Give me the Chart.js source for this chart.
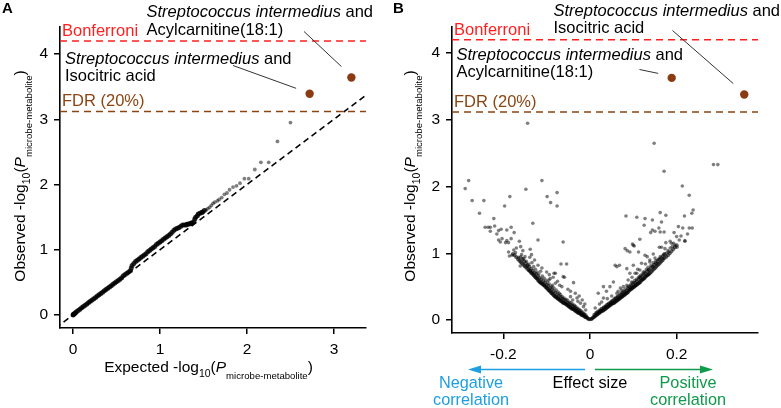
<!DOCTYPE html>
<html><head><meta charset="utf-8">
<script src="https://cdn.jsdelivr.net/npm/chart.js@4.4.1/dist/chart.umd.min.js"></script>
<style>
html,body{margin:0;padding:0;background:#fff;}
#wrap{position:relative;width:781px;height:408px;overflow:hidden;background:#fff;}
canvas{position:absolute;top:0;}
#cA{left:0;} #cB{left:390px;}
</style></head><body>
<div id="wrap"><canvas id="cA" width="390" height="408"></canvas><canvas id="cB" width="391" height="408"></canvas></div>
<script>
const FONT = '"Liberation Sans", Arial, Helvetica, sans-serif';

// ---------- DATA ----------
// Panel A: QQ plot [expected -log10 P, observed -log10 P]
const qqHighlight = [[3.20,3.64],[2.72,3.39]];
const qqTail = [
[2.50,2.95],[2.35,2.66],[2.25,2.34],[2.16,2.34],[2.09,2.23],[2.02,2.09],[1.97,2.09],[1.92,2.02],[1.88,1.98],[1.84,1.96],
[1.80,1.92],[1.77,1.87],[1.74,1.85],[1.71,1.80],[1.68,1.77],[1.66,1.75],[1.63,1.73],[1.61,1.71],[1.59,1.68],[1.57,1.65],
[1.55,1.63],[1.53,1.61]
];
const qqBody = [
[1.51,1.60],[1.49,1.58],[1.48,1.57],[1.46,1.56],[1.44,1.55],[1.43,1.52],[1.41,1.50],[1.40,1.47],
[1.39,1.43],[1.37,1.41],[1.36,1.41],[1.35,1.40],[1.34,1.40],[1.32,1.39],[1.31,1.39],[1.30,1.38],[1.28,1.38],[1.26,1.38],
[1.24,1.36],[1.22,1.34],[1.20,1.33],[1.18,1.32],[1.16,1.30],[1.14,1.27],[1.12,1.24],[1.10,1.22],[1.08,1.20],[1.06,1.18],
[1.04,1.16],[1.02,1.14],[1.00,1.12],[0.98,1.10],[0.96,1.08],[0.94,1.05],[0.92,1.03],[0.90,1.01],[0.88,0.99],[0.86,0.97],
[0.84,0.94],[0.82,0.92],[0.80,0.90],[0.78,0.88],[0.76,0.86],[0.74,0.84],[0.72,0.82],[0.70,0.79],[0.68,0.76],[0.67,0.72],
[0.66,0.68],[0.64,0.66],[0.62,0.64],[0.60,0.62],[0.58,0.60],[0.56,0.57],[0.54,0.55],[0.52,0.53],[0.50,0.51],[0.48,0.49],
[0.46,0.47],[0.44,0.45],[0.42,0.43],[0.40,0.41],[0.38,0.39],[0.36,0.37],[0.34,0.35],[0.32,0.33],[0.30,0.31],[0.28,0.29],
[0.26,0.27],[0.24,0.25],[0.22,0.23],[0.20,0.21],[0.18,0.19],[0.16,0.17],[0.14,0.15],[0.12,0.13],[0.10,0.11],[0.08,0.09],
[0.06,0.07],[0.04,0.05],[0.03,0.035],[0.02,0.025],[0.01,0.015],[0.005,0.008],[0.001,0.002]
];
const qqDiagonal = [-0.2, 3.4];
const qqTicksX = [0,1,2,3];
const qqTicksY = [0,1,2,3,4];

// Panel B: volcano plot [effect size, observed -log10 P]
const volHighlight = [[0.1885,3.63],[0.356,3.38]];
const volLeftBand = [
[-0.002,0.01],[-0.004,0.02],[-0.006,0.03],[-0.008,0.04],[-0.010,0.04],[-0.012,0.05],[-0.014,0.06],[-0.016,0.07],[-0.018,0.07],[-0.020,0.08],
[-0.022,0.09],[-0.024,0.10],[-0.026,0.11],[-0.028,0.11],[-0.030,0.12],[-0.032,0.13],[-0.034,0.14],[-0.036,0.15],[-0.038,0.16],[-0.040,0.17],
[-0.042,0.17],[-0.044,0.18],[-0.046,0.19],[-0.048,0.20],[-0.050,0.21],[-0.052,0.22],[-0.054,0.23],[-0.056,0.24],[-0.058,0.25],[-0.060,0.25],
[-0.062,0.26],[-0.064,0.27],[-0.066,0.28],[-0.068,0.29],[-0.070,0.30],[-0.072,0.31],[-0.074,0.32],[-0.076,0.33],[-0.078,0.34],[-0.080,0.35],
[-0.082,0.36],[-0.084,0.37],[-0.086,0.39],[-0.088,0.40],[-0.090,0.41],[-0.092,0.43],[-0.094,0.44],[-0.096,0.45],[-0.098,0.47],[-0.100,0.48],
[-0.102,0.49],[-0.104,0.51],[-0.106,0.52],[-0.108,0.53],[-0.110,0.54],[-0.112,0.55],[-0.114,0.56],[-0.116,0.57],[-0.118,0.58],[-0.120,0.60],
[-0.122,0.62],[-0.124,0.63],[-0.126,0.64],[-0.128,0.66],[-0.130,0.67],[-0.132,0.69],[-0.134,0.70],[-0.136,0.71],[-0.138,0.73],[-0.140,0.74],
[-0.142,0.75],[-0.145,0.77],[-0.148,0.79],[-0.151,0.81],[-0.154,0.83],[-0.157,0.85],[-0.160,0.87],[-0.163,0.89],[-0.166,0.91],[-0.170,0.94],
[-0.174,0.97],[-0.178,0.99],
[-0.010,0.07],[-0.015,0.09],[-0.020,0.11],[-0.024,0.13],[-0.028,0.15],[-0.032,0.17],[-0.036,0.19],[-0.040,0.21],[-0.044,0.22],[-0.048,0.24],
[-0.052,0.26],[-0.056,0.28],[-0.060,0.30],[-0.064,0.32],[-0.068,0.34],[-0.072,0.36],[-0.076,0.38],[-0.080,0.41],[-0.084,0.43],[-0.088,0.46],
[-0.092,0.48],[-0.096,0.51],[-0.100,0.53],[-0.104,0.56],[-0.108,0.58],[-0.112,0.61],[-0.116,0.63],[-0.120,0.66],[-0.124,0.69],[-0.128,0.71],
[-0.132,0.74],[-0.136,0.77],[-0.140,0.80],[-0.144,0.82],[-0.148,0.85],[-0.152,0.88],[-0.156,0.91],[-0.160,0.94]
];
const volRightBand = [
[0.002,0.01],[0.004,0.02],[0.006,0.03],[0.008,0.04],[0.010,0.05],[0.012,0.06],[0.014,0.07],[0.016,0.08],[0.018,0.09],[0.020,0.10],
[0.022,0.11],[0.024,0.12],[0.026,0.13],[0.028,0.14],[0.030,0.14],[0.032,0.15],[0.034,0.16],[0.036,0.17],[0.038,0.18],[0.040,0.19],
[0.042,0.20],[0.044,0.21],[0.046,0.22],[0.048,0.23],[0.050,0.24],[0.052,0.25],[0.054,0.25],[0.056,0.26],[0.058,0.27],[0.060,0.28],
[0.062,0.29],[0.064,0.30],[0.066,0.31],[0.068,0.32],[0.070,0.33],[0.072,0.34],[0.074,0.35],[0.076,0.36],[0.078,0.37],[0.080,0.38],
[0.082,0.39],[0.084,0.40],[0.086,0.41],[0.088,0.42],[0.090,0.44],[0.092,0.45],[0.094,0.46],[0.096,0.47],[0.098,0.48],[0.100,0.49],
[0.102,0.50],[0.104,0.51],[0.106,0.52],[0.108,0.53],[0.110,0.54],[0.112,0.55],[0.114,0.56],[0.116,0.57],[0.118,0.59],[0.120,0.60],
[0.122,0.61],[0.124,0.62],[0.126,0.63],[0.128,0.65],[0.130,0.66],[0.132,0.67],[0.134,0.68],[0.136,0.69],[0.138,0.70],[0.141,0.72],
[0.144,0.74],[0.147,0.76],[0.150,0.78],[0.153,0.80],[0.156,0.82],[0.159,0.84],[0.162,0.86],[0.165,0.88],[0.168,0.90],[0.172,0.93],
[0.176,0.95],[0.180,0.97],[0.184,1.00],[0.188,1.03],[0.192,1.06],[0.196,1.09],[0.200,1.12],
[0.010,0.08],[0.015,0.10],[0.020,0.12],[0.024,0.14],[0.028,0.16],[0.032,0.18],[0.036,0.20],[0.040,0.22],[0.044,0.24],[0.048,0.26],
[0.052,0.28],[0.056,0.30],[0.060,0.32],[0.064,0.34],[0.068,0.36],[0.072,0.38],[0.076,0.40],[0.080,0.42],[0.084,0.44],[0.088,0.47],
[0.092,0.49],[0.096,0.51],[0.100,0.54],[0.104,0.56],[0.108,0.58],[0.112,0.61],[0.116,0.63],[0.120,0.65],[0.124,0.68],[0.128,0.70],
[0.132,0.73],[0.136,0.75],[0.140,0.78],[0.144,0.80],[0.148,0.83],[0.152,0.85],[0.156,0.88],[0.160,0.91],[0.164,0.93],[0.168,0.96],[0.172,0.99]
];
const volScatter = [
[-0.288,1.97],[-0.280,2.09],[-0.272,1.79],[-0.245,1.79],[-0.255,1.60],[-0.222,1.52],[-0.242,1.39],[-0.235,1.39],[-0.230,1.39],[-0.220,1.41],
[-0.230,1.33],[-0.211,1.34],[-0.215,1.29],[-0.205,1.36],[-0.192,1.35],[-0.182,1.39],[-0.175,1.31],[-0.211,1.20],[-0.203,1.22],[-0.207,1.17],
[-0.192,1.19],[-0.182,1.22],[-0.195,1.16],[-0.188,1.16],[-0.163,1.18],[-0.185,1.85],[-0.197,1.71],[-0.148,1.96],[-0.111,2.09],[-0.099,1.85],
[-0.091,1.76],[-0.076,1.91],[-0.076,1.71],[-0.132,1.45],[-0.120,1.20],[-0.138,1.06],[-0.062,1.17],[-0.144,2.95],
[-0.067,0.84],[-0.054,0.84],[-0.083,0.70],[-0.080,0.70],[-0.111,0.78],[-0.062,0.65],
[-0.188,1.02],[-0.172,1.01],[-0.186,0.96],[-0.180,0.97],[-0.165,0.94],[-0.153,0.92],[-0.139,0.94],[-0.134,0.86],[-0.161,0.81],[-0.145,0.81],
[-0.085,0.64],[-0.059,0.64],[-0.065,0.50],[-0.038,0.56],[-0.051,0.46],[-0.034,0.40],[-0.030,0.33],[-0.022,0.25],[-0.080,0.55],[-0.095,0.60],[-0.088,0.50],
[-0.176,1.05],[-0.170,1.08],[-0.158,0.98],[-0.150,0.95],[-0.147,0.88],[-0.141,0.84],[-0.130,0.80],[-0.126,0.76],[-0.122,0.72],[-0.118,0.69],
[-0.114,0.73],[-0.110,0.66],[-0.106,0.63],[-0.102,0.60],[-0.098,0.57],[-0.094,0.54],[-0.092,0.62],[-0.087,0.52],[-0.083,0.48],[-0.078,0.45],
[-0.074,0.42],[-0.071,0.40],[-0.068,0.38],[-0.064,0.35],[-0.060,0.33],[-0.056,0.31],[-0.052,0.30],[-0.048,0.27],[-0.044,0.26],[-0.040,0.24],
[-0.036,0.22],[-0.033,0.20],[-0.029,0.18],[-0.025,0.16],[-0.021,0.14],[-0.017,0.12],[-0.013,0.09],
[-0.120,0.82],[-0.128,0.90],[-0.135,0.98],[-0.160,1.10],[-0.155,1.04],[-0.100,0.72],[-0.094,0.68],[-0.075,0.58],[-0.070,0.52],[-0.045,0.35],
[-0.040,0.30],[-0.028,0.28],[-0.015,0.20],[-0.010,0.15],[-0.045,0.43],[-0.025,0.36],[-0.018,0.30],[-0.012,0.24],
[0.148,2.65],[0.171,2.23],[0.285,2.33],[0.295,2.33],[0.213,2.01],[0.229,1.87],[0.238,1.65],[0.235,1.60],[0.218,1.56],[0.083,1.56],
[0.108,1.54],[0.127,1.52],[0.144,1.50],[0.162,1.61],[0.175,1.57],[0.165,1.47],[0.125,1.42],[0.159,1.38],[0.144,1.35],[0.150,1.33],
[0.162,1.32],[0.171,1.32],[0.140,1.31],[0.204,1.40],[0.214,1.38],[0.229,1.38],[0.236,1.38],[0.194,1.31],[0.225,1.29],[0.219,1.19],
[0.115,1.21],[0.185,1.18],[0.175,1.16],[0.193,1.15],[0.201,1.09],[0.098,1.14],[0.102,1.11],[0.081,1.07],[0.160,1.09],[0.062,0.80],[0.068,0.82],
[0.100,1.12],[0.086,1.04],[0.092,1.02],[0.112,1.02],[0.127,0.97],[0.132,0.95],[0.146,0.99],[0.165,1.09],[0.173,1.07],[0.181,1.02],
[0.188,1.15],[0.196,1.12],[0.219,1.18],[0.162,0.95],[0.169,0.92],[0.138,0.87],[0.154,0.85],[0.119,0.85],[0.100,0.82],[0.058,0.82],
[0.085,0.77],[0.115,0.75],[0.123,0.72],[0.135,0.75],[0.146,0.80],[0.108,0.70],[0.115,0.65],[0.092,0.70],[0.054,0.57],[0.046,0.50],
[0.038,0.43],[0.031,0.33],[0.027,0.27],[0.088,0.60],[0.096,0.57],[0.077,0.50],[0.085,0.52],[0.065,0.43],[0.073,0.45],[0.019,0.40],[0.031,0.50],
[0.180,1.04],[0.176,1.00],[0.170,0.98],[0.158,0.91],[0.152,0.89],[0.146,0.86],[0.141,0.82],[0.134,0.79],[0.130,0.76],[0.126,0.72],
[0.121,0.69],[0.117,0.67],[0.112,0.64],[0.107,0.61],[0.103,0.59],[0.099,0.56],[0.094,0.53],[0.090,0.51],[0.086,0.49],[0.081,0.46],
[0.077,0.43],[0.073,0.41],[0.069,0.39],[0.064,0.36],[0.060,0.34],[0.056,0.32],[0.051,0.29],[0.047,0.27],[0.043,0.25],[0.039,0.23],
[0.035,0.21],[0.031,0.19],[0.026,0.17],[0.022,0.15],[0.018,0.13],[0.014,0.11],[0.150,0.93],[0.138,0.90],[0.128,0.84],[0.110,0.76],
[0.104,0.70],[0.097,0.64],[0.070,0.48],[0.062,0.40],[0.050,0.36],[0.040,0.32],[0.022,0.24],[0.012,0.18],[0.185,1.08],[0.190,1.10],
[0.206,1.20],[0.210,1.26],[0.200,1.25]
];
const volTicksX = [-0.2,0,0.2];
const volTicksY = [0,1,2,3,4];

const thresholdBonferroni = 4.20;
const thresholdFDR = 3.12;

// ---------- STYLE ----------
const RED = '#ff1f1f', BROWN = '#8b4513', PT_BROWN = '#8a3b12';
const BLUE = '#1d9fe0', GREEN = '#109a4c';
const DOT = 'rgba(0,0,0,0.5)';
const DOT_DENSE = 'rgba(0,0,0,0.6)';

const toXY = arr => arr.map(([x,y]) => ({x, y}));

function scaleCfg(axis, min, max, ticks, fit){
  return {
    type:'linear', min, max, position: axis==='x' ? 'bottom' : 'left',
    afterBuildTicks: s => { s.ticks = ticks.map(v => ({value:v})); },
    afterFit: s => { if (axis==='x') s.height = fit; else s.width = fit; },
    grid:{display:true, drawOnChartArea:false, drawTicks:true, tickLength:6, tickWidth:1.5, color:'#000', lineWidth:1.5},
    border:{display:true, color:'#000', width:1.6},
    ticks:{color:'#000', font:{family:FONT, size:15.5}, padding:6, maxRotation:0, autoSkip:false,
           callback: v => String(v)}
  };
}

function rich(ctx, parts, cx, cy, rot, align){
  ctx.save();
  ctx.translate(cx, cy); ctx.rotate(rot || 0);
  ctx.textBaseline = 'alphabetic'; ctx.textAlign = 'left';
  let total = 0;
  const ws = parts.map(p => { ctx.font = (p.it?'italic ':'') + p.s + 'px ' + FONT; const w = ctx.measureText(p.t).width; total += w; return w; });
  let x = align === 'left' ? 0 : -total/2;
  parts.forEach((p,i) => { ctx.font = (p.it?'italic ':'') + p.s + 'px ' + FONT; ctx.fillStyle = p.c || '#000'; ctx.fillText(p.t, x, p.dy || 0); x += ws[i]; });
  ctx.restore();
}

function titleParts(word){
  return [
    {t: word + ' -log', s:15.5}, {t:'10', s:10.5, dy:5}, {t:'(', s:15.5}, {t:'P', s:15.5, it:true},
    {t:'microbe-metabolite', s:9.6, dy:7}, {t:')', s:15.5}
  ];
}

function annotation(ctx, x, y1, y2, line2){
  rich(ctx, [{t:'Streptococcus intermedius', s:16.5, it:true}, {t:' and', s:16.5}], x, y1, 0, 'left');
  rich(ctx, [{t:line2, s:16.5}], x, y2, 0, 'left');
}

function leader(ctx, x1, y1, x2, y2){
  ctx.save(); ctx.strokeStyle = '#333'; ctx.lineWidth = 1; ctx.beginPath(); ctx.moveTo(x1,y1); ctx.lineTo(x2,y2); ctx.stroke(); ctx.restore();
}

function thresholds(chart){
  const {ctx, chartArea:a, scales:{y}} = chart;
  ctx.save();
  ctx.lineWidth = 1.5; ctx.setLineDash([7,5]);
  [[thresholdBonferroni, RED],[thresholdFDR, BROWN]].forEach(([v,c]) => {
    const py = y.getPixelForValue(v);
    ctx.strokeStyle = c; ctx.beginPath(); ctx.moveTo(a.left, py); ctx.lineTo(a.right, py); ctx.stroke();
  });
  ctx.setLineDash([]);
  ctx.font = '16.5px ' + FONT; ctx.textAlign = 'left'; ctx.textBaseline = 'alphabetic';
  ctx.fillStyle = RED; ctx.fillText('Bonferroni', a.left + 2, y.getPixelForValue(thresholdBonferroni) - 5);
  ctx.fillStyle = BROWN; ctx.fillText('FDR (20%)', a.left + 2, y.getPixelForValue(thresholdFDR) - 5);
  ctx.restore();
}

function arrow(ctx, x1, x2, y, color){
  const dir = Math.sign(x2 - x1);
  ctx.save(); ctx.strokeStyle = color; ctx.fillStyle = color; ctx.lineWidth = 1.6;
  ctx.beginPath(); ctx.moveTo(x1, y); ctx.lineTo(x2 - dir*10, y); ctx.stroke();
  ctx.beginPath(); ctx.moveTo(x2, y); ctx.lineTo(x2 - dir*13, y - 4); ctx.lineTo(x2 - dir*13, y + 4); ctx.closePath(); ctx.fill();
  ctx.restore();
}

const pluginA = {
  id:'panelA',
  beforeDatasetsDraw(chart){
    const {ctx, chartArea:a, scales:{x,y}} = chart;
    ctx.save();
    ctx.beginPath(); ctx.rect(a.left, a.top, a.right-a.left, a.bottom-a.top); ctx.clip();
    ctx.strokeStyle = '#000'; ctx.lineWidth = 1.6; ctx.setLineDash([6,4]);
    ctx.beginPath();
    ctx.moveTo(x.getPixelForValue(qqDiagonal[0]), y.getPixelForValue(qqDiagonal[0]));
    ctx.lineTo(x.getPixelForValue(qqDiagonal[1]), y.getPixelForValue(qqDiagonal[1]));
    ctx.stroke();
    ctx.restore();
    thresholds(chart);
  },
  afterDraw(chart){
    const {ctx, scales:{x,y}} = chart;
    const p1x = x.getPixelForValue(qqHighlight[0][0]), p1y = y.getPixelForValue(qqHighlight[0][1]);
    const p2x = x.getPixelForValue(qqHighlight[1][0]), p2y = y.getPixelForValue(qqHighlight[1][1]);
    annotation(ctx, 146.5, 17, 35, 'Acylcarnitine(18:1)');
    annotation(ctx, 65, 63.5, 80.5, 'Isocitric acid');
    leader(ctx, 304, 31.5, p1x - 10, p1y - 11);
    leader(ctx, 233, 65.5, p2x - 13.5, p2y - 5.5);
    rich(ctx, titleParts('Expected'), 208.5, 372, 0);
    rich(ctx, titleParts('Observed'), 25, 176, -Math.PI/2);
    ctx.save(); ctx.font = 'bold 15px ' + FONT; ctx.fillStyle = '#000'; ctx.fillText('A', 2, 13); ctx.restore();
  }
};

const pluginB = {
  id:'panelB',
  beforeDatasetsDraw(chart){ thresholds(chart); },
  afterDraw(chart){
    const {ctx, scales:{x,y}} = chart;
    const p1x = x.getPixelForValue(volHighlight[0][0]), p1y = y.getPixelForValue(volHighlight[0][1]);
    const p2x = x.getPixelForValue(volHighlight[1][0]), p2y = y.getPixelForValue(volHighlight[1][1]);
    annotation(ctx, 163.5, 16, 33, 'Isocitric acid');
    annotation(ctx, 66.5, 60, 77, 'Acylcarnitine(18:1)');
    leader(ctx, 282.5, 30.5, p2x - 11, p2y - 11);
    leader(ctx, 249.5, 69.5, p1x - 13.5, p1y - 4.5);
    rich(ctx, titleParts('Observed'), 25, 176, -Math.PI/2);
    const x0 = x.getPixelForValue(0);
    arrow(ctx, x0 - 5, x0 - 122, 369.5, BLUE);
    arrow(ctx, x0 + 5, x0 + 123, 369.5, GREEN);
    ctx.save(); ctx.font = '16.3px ' + FONT; ctx.textAlign = 'center'; ctx.textBaseline = 'alphabetic';
    ctx.fillStyle = '#000'; ctx.fillText('Effect size', x0, 388);
    ctx.fillStyle = BLUE; ctx.fillText('Negative', x0 - 119, 388); ctx.fillText('correlation', x0 - 119, 404.5);
    ctx.fillStyle = GREEN; ctx.fillText('Positive', x0 + 98, 388); ctx.fillText('correlation', x0 + 98, 404.5);
    ctx.restore();
    ctx.save(); ctx.font = 'bold 15px ' + FONT; ctx.fillStyle = '#000'; ctx.fillText('B', 3, 13); ctx.restore();
  }
};

function baseOptions(pad, xs, ys){
  return {
    responsive:false, animation:false, events:[],
    layout:{padding:pad},
    plugins:{legend:{display:false}, tooltip:{enabled:false}},
    scales:{x:xs, y:ys}
  };
}

new Chart(document.getElementById('cA'), {
  type:'scatter',
  data:{datasets:[
    {data:toXY(qqHighlight), backgroundColor:PT_BROWN, borderWidth:0, pointRadius:4.2},
    {data:toXY(qqTail), backgroundColor:DOT, borderWidth:0, pointRadius:1.9},
    {data:toXY(qqBody), backgroundColor:'rgba(0,0,0,0.8)', borderWidth:0, pointRadius:2.5}
  ]},
  options: baseOptions({left:0, top:27, right:24, bottom:0},
    scaleCfg('x', -0.149, 3.368, qqTicksX, 80),
    scaleCfg('y', -0.199, 4.414, qqTicksY, 60)),
  plugins:[pluginA]
});

new Chart(document.getElementById('cB'), {
  type:'scatter',
  data:{datasets:[
    {data:toXY(volHighlight), backgroundColor:PT_BROWN, borderWidth:0, pointRadius:4.2},
    {data:toXY(volScatter), backgroundColor:DOT, borderWidth:0, pointRadius:1.8},
    {data:toXY(volLeftBand), backgroundColor:DOT_DENSE, borderWidth:0, pointRadius:2},
    {data:toXY(volRightBand), backgroundColor:DOT_DENSE, borderWidth:0, pointRadius:2}
  ]},
  options: baseOptions({left:0, top:27, right:23, bottom:0},
    scaleCfg('x', -0.3185, 0.3877, volTicksX, 75),
    scaleCfg('y', -0.195, 4.393, volTicksY, 62)),
  plugins:[pluginB]
});
</script>
</body></html>
